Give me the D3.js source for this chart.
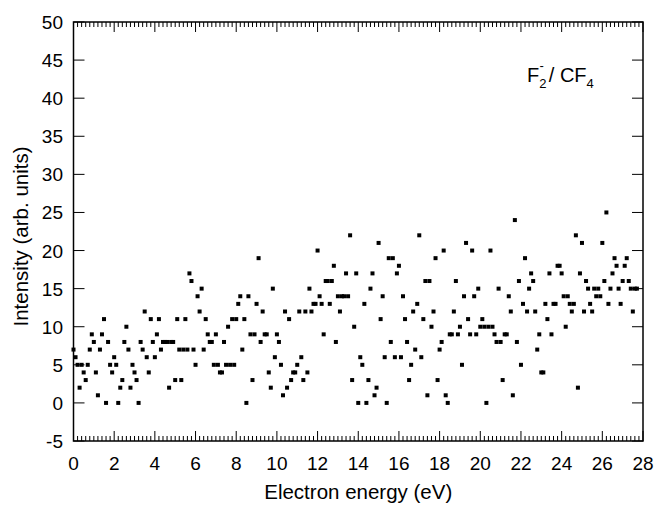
<!DOCTYPE html>
<html>
<head>
<meta charset="utf-8">
<script src="https://cdn.jsdelivr.net/npm/d3@7"></script>
<style>
  body { margin: 0; background: #fff; }
  svg text { font-family: "Liberation Sans", Arial, sans-serif; fill: #000; }
</style>
</head>
<body>
<svg id="chart" width="655" height="505"></svg>
<script>
// electron energy (eV)
const energy = [
    0.0, 0.1, 0.2, 0.3, 0.4, 0.5, 0.6, 0.7, 0.8, 0.9, 1.0, 1.1, 1.2, 1.3, 1.4, 1.5, 1.6, 1.7, 1.8, 1.9,
    2.0, 2.1, 2.2, 2.3, 2.4, 2.5, 2.6, 2.7, 2.8, 2.9, 3.0, 3.1, 3.2, 3.3, 3.4, 3.5, 3.6, 3.7, 3.8, 3.9,
    4.0, 4.1, 4.2, 4.3, 4.4, 4.5, 4.6, 4.7, 4.8, 4.9, 5.0, 5.1, 5.2, 5.3, 5.4, 5.5, 5.6, 5.7, 5.8, 5.9,
    6.0, 6.1, 6.2, 6.3, 6.4, 6.5, 6.6, 6.7, 6.8, 6.9, 7.0, 7.1, 7.2, 7.3, 7.4, 7.5, 7.6, 7.7, 7.8, 7.9,
    8.0, 8.1, 8.2, 8.3, 8.4, 8.5, 8.6, 8.7, 8.8, 8.9, 9.0, 9.1, 9.2, 9.3, 9.4, 9.5, 9.6, 9.7, 9.8, 9.9,
    10.0, 10.1, 10.2, 10.3, 10.4, 10.5, 10.6, 10.7, 10.8, 10.9, 11.0, 11.1, 11.2, 11.3, 11.4, 11.5, 11.6, 11.7, 11.8, 11.9,
    12.0, 12.1, 12.2, 12.3, 12.4, 12.5, 12.6, 12.7, 12.8, 12.9, 13.0, 13.1, 13.2, 13.3, 13.4, 13.5, 13.6, 13.7, 13.8, 13.9,
    14.0, 14.1, 14.2, 14.3, 14.4, 14.5, 14.6, 14.7, 14.8, 14.9, 15.0, 15.1, 15.2, 15.3, 15.4, 15.5, 15.6, 15.7, 15.8, 15.9,
    16.0, 16.1, 16.2, 16.3, 16.4, 16.5, 16.6, 16.7, 16.8, 16.9, 17.0, 17.1, 17.2, 17.3, 17.4, 17.5, 17.6, 17.7, 17.8, 17.9,
    18.0, 18.1, 18.2, 18.3, 18.4, 18.5, 18.6, 18.7, 18.8, 18.9, 19.0, 19.1, 19.2, 19.3, 19.4, 19.5, 19.6, 19.7, 19.8, 19.9,
    20.0, 20.1, 20.2, 20.3, 20.4, 20.5, 20.6, 20.7, 20.8, 20.9, 21.0, 21.1, 21.2, 21.3, 21.4, 21.5, 21.6, 21.7, 21.8, 21.9,
    22.0, 22.1, 22.2, 22.3, 22.4, 22.5, 22.6, 22.7, 22.8, 22.9, 23.0, 23.1, 23.2, 23.3, 23.4, 23.5, 23.6, 23.7, 23.8, 23.9,
    24.0, 24.1, 24.2, 24.3, 24.4, 24.5, 24.6, 24.7, 24.8, 24.9, 25.0, 25.1, 25.2, 25.3, 25.4, 25.5, 25.6, 25.7, 25.8, 25.9,
    26.0, 26.1, 26.2, 26.3, 26.4, 26.5, 26.6, 26.7, 26.8, 26.9, 27.0, 27.1, 27.2, 27.3, 27.4, 27.5, 27.6, 27.7
];
// F2- yield (counts)
const intensity = [
    7, 6, 5, 2, 5, 4, 3, 5, 7, 9, 8, 4, 1, 7, 9, 11, 0, 8, 5, 4,
    6, 5, 0, 2, 3, 8, 10, 7, 2, 5, 4, 3, 0, 8, 7, 12, 6, 4, 11, 8,
    6, 9, 11, 7, 8, 8, 8, 2, 8, 8, 3, 11, 7, 3, 7, 11, 7, 17, 16, 7,
    5, 14, 12, 15, 7, 11, 9, 8, 8, 5, 9, 5, 4, 4, 8, 5, 10, 5, 11, 5,
    11, 13, 14, 7, 11, 0, 14, 9, 3, 9, 13, 19, 8, 12, 9, 9, 4, 2, 15, 6,
    9, 8, 5, 1, 12, 2, 11, 3, 4, 4, 5, 12, 6, 3, 12, 4, 15, 12, 13, 13,
    20, 14, 13, 9, 16, 16, 13, 16, 18, 8, 14, 12, 14, 14, 17, 14, 22, 3, 10, 17,
    0, 6, 5, 13, 0, 3, 15, 17, 1, 2, 21, 11, 14, 6, 0, 19, 8, 19, 6, 17,
    18, 6, 14, 11, 8, 3, 5, 12, 7, 13, 22, 6, 11, 16, 1, 16, 10, 12, 19, 3,
    7, 8, 20, 1, 0, 9, 9, 12, 16, 9, 10, 5, 14, 21, 11, 9, 20, 14, 9, 15,
    10, 11, 10, 0, 10, 20, 10, 9, 8, 15, 8, 3, 9, 9, 14, 12, 1, 24, 8, 16,
    5, 13, 19, 12, 15, 17, 16, 12, 7, 9, 4, 4, 13, 11, 17, 9, 13, 13, 18, 18,
    17, 14, 10, 14, 13, 12, 13, 22, 2, 17, 21, 12, 16, 15, 13, 12, 15, 14, 15, 14,
    21, 16, 25, 13, 15, 17, 19, 18, 15, 13, 16, 18, 19, 16, 15, 12, 15, 15
];

const xTicks = d3.range(0, 29, 2);
const yTicks = d3.range(-5, 51, 5);

const svg = d3.select("#chart");
const plotL = 73.5, plotR = 643, plotT = 22, plotB = 441;

const x = d3.scaleLinear().domain([0, 28]).range([plotL, plotR]);
const y = d3.scaleLinear().domain([-5, 50]).range([plotB, plotT]);

// frame
svg.append("rect")
    .attr("x", plotL).attr("y", plotT)
    .attr("width", plotR - plotL).attr("height", plotB - plotT)
    .attr("fill", "none").attr("stroke", "#000").attr("stroke-width", 1.5);

// x ticks on bottom and top, pointing inward; minor every 0.2
const minorX = d3.range(0, 141).map(i => i * 0.2);
const isMajor = d => Math.abs(d / 2 - Math.round(d / 2)) < 1e-6;
const gx = svg.append("g").attr("class", "x-ticks");
gx.selectAll("line.bot")
    .data(minorX)
    .join("line")
    .attr("class", "bot")
    .attr("x1", d => x(d)).attr("x2", d => x(d))
    .attr("y1", plotB)
    .attr("y2", d => plotB - (isMajor(d) ? 10 : 5))
    .attr("stroke", "#000").attr("stroke-width", 1);
gx.selectAll("line.top")
    .data(minorX)
    .join("line")
    .attr("class", "top")
    .attr("x1", d => x(d)).attr("x2", d => x(d))
    .attr("y1", plotT)
    .attr("y2", d => plotT + (isMajor(d) ? 10 : 5))
    .attr("stroke", "#000").attr("stroke-width", 1);

gx.selectAll("text")
    .data(xTicks)
    .join("text")
    .attr("x", d => x(d))
    .attr("y", 470)
    .attr("text-anchor", "middle")
    .style("font-size", "19px")
    .text(d => d);

// y ticks on left and right
const gy = svg.append("g").attr("class", "y-ticks");
gy.selectAll("line.l")
    .data(yTicks)
    .join("line")
    .attr("class", "l")
    .attr("x1", plotL).attr("x2", plotL + 11)
    .attr("y1", d => y(d)).attr("y2", d => y(d))
    .attr("stroke", "#000").attr("stroke-width", 1);
gy.selectAll("line.r")
    .data(yTicks)
    .join("line")
    .attr("class", "r")
    .attr("x1", plotR).attr("x2", plotR - 11)
    .attr("y1", d => y(d)).attr("y2", d => y(d))
    .attr("stroke", "#000").attr("stroke-width", 1);
gy.selectAll("text")
    .data(yTicks)
    .join("text")
    .attr("x", 63)
    .attr("y", d => y(d) + 7)
    .attr("text-anchor", "end")
    .style("font-size", "19px")
    .text(d => d);

// data points
svg.append("g")
    .selectAll("rect")
    .data(energy.map((e, i) => [e, intensity[i]]))
    .join("rect")
    .attr("x", d => x(d[0]) - 2)
    .attr("y", d => y(d[1]) - 2)
    .attr("width", 4).attr("height", 4)
    .attr("fill", "#000");

// axis titles
svg.append("text")
    .attr("x", (plotL + plotR) / 2).attr("y", 499)
    .attr("text-anchor", "middle")
    .style("font-size", "20.5px")
    .text("Electron energy (eV)");

svg.append("text")
    .attr("transform", `translate(28,${(plotT + plotB) / 2 + 5}) rotate(-90)`)
    .attr("text-anchor", "middle")
    .style("font-size", "20.5px")
    .text("Intensity (arb. units)");

// label F2- / CF4
const lab = svg.append("text")
    .attr("x", 527).attr("y", 82)
    .style("font-size", "20px");
lab.append("tspan").text("F");
lab.append("tspan").attr("dy", 6).style("font-size", "13px").text("2");
lab.append("tspan").attr("dx", -7).attr("dy", -18).style("font-size", "13px").text("-");
lab.append("tspan").attr("dx", 5).attr("dy", 12).text("/ CF");
lab.append("tspan").attr("dy", 6).style("font-size", "13px").text("4");
</script>
</body>
</html>
